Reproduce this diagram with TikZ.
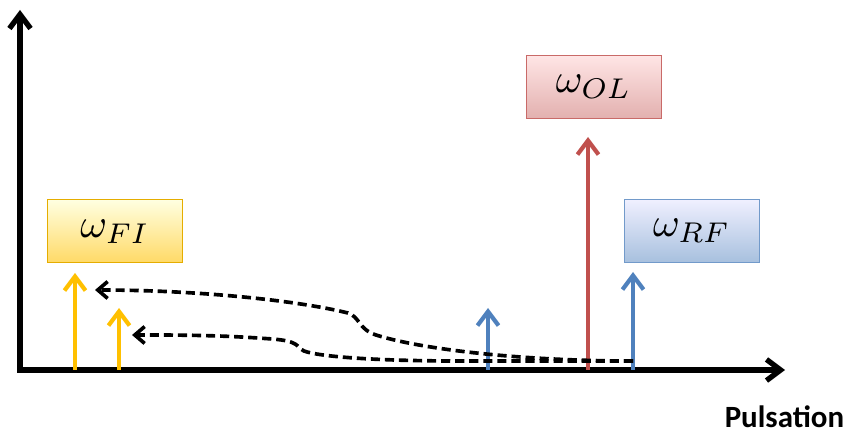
\documentclass[tikz,border=0pt]{standalone}
\usepackage{fontspec}
\newfontfamily\axisfont{Carlito}
\usetikzlibrary{arrows.meta}

\definecolor{goldA}{HTML}{FFC000}
\definecolor{redA}{HTML}{C0504D}
\definecolor{blueA}{HTML}{4F81BD}

\newcommand{\freqlabel}[1]{\scalebox{2.9}{$\omega_{#1}$}}

\begin{document}
\begin{tikzpicture}[
    freqbox/.style={draw, line width=0.8pt, minimum width=3.375cm, minimum height=1.575cm, inner sep=0pt},
    spike/.style={line width=3pt, -{Straight Barb[length=10pt,width=15pt,line width=3pt]}},
    mixline/.style={black, line width=2.6pt, dash pattern=on 6.5pt off 3.5pt, -{Straight Barb[length=7pt,width=12pt,line width=2.6pt]}}]
    \useasboundingbox (0,0) rectangle (21.45,10.825);

    % axes
    \coordinate (O) at (0.5,1.575);
    \coordinate (Ytop) at (0.5,10.575);
    \coordinate (Xend) at (19.625,1.575);
    \draw[line width=3.8pt, -{Straight Barb[length=10pt,width=15pt,line width=3.8pt]}] (0.5,1.5) -- (Ytop);
    \draw[line width=3.8pt, -{Straight Barb[length=10pt,width=15pt,line width=3.8pt]}] (O) -- (Xend);
    \node[font=\axisfont\bfseries\fontsize{22}{24}\selectfont, anchor=base] (puls) at (19.61,0.15) {Pulsation};

    % frequency boxes
    \node[freqbox, draw=goldA!90!black, top color=yellow!12, bottom color=goldA!60] (fi) at (2.875,5.04) {\freqlabel{FI}};
    \node[freqbox, draw=redA!85, top color=red!10, bottom color=redA!45] (ol) at (14.84,8.66) {\freqlabel{OL}};
    \node[freqbox, draw=blueA!80, top color=blue!6, bottom color=blueA!50] (rf) at (17.29,5.05) {\freqlabel{RF}};

    % spikes
    \coordinate (fiA) at (1.875,1.575);
    \coordinate (fiB) at (2.975,1.575);
    \coordinate (imB) at (12.2,1.575);
    \coordinate (olB) at (14.7,1.575);
    \coordinate (rfB) at (15.825,1.575);
    \draw[spike, goldA] (fiA) -- ++(0,2.425) coordinate (fiAtop);
    \draw[spike, goldA] (fiB) -- ++(0,1.55) coordinate (fiBtop);
    \draw[spike, blueA] (imB) -- ++(0,1.55) coordinate (imBtop);
    \draw[spike, redA] (olB) -- ++(0,5.825) coordinate (olBtop);
    \draw[spike, blueA] (rfB) -- ++(0,2.45) coordinate (rfBtop);

    % mixing paths
    \coordinate (mixStart) at (15.825,1.8);
    \coordinate (upTip) at (2.375,3.575);
    \coordinate (loTip) at (3.3,2.45);
    \draw[mixline] (mixStart) .. controls (13,1.8) and (10.5,2.1) .. (9.4,2.45)
        .. controls (8.95,2.6) and (9.0,2.9) .. (8.7,3.0)
        .. controls (7.5,3.3) and (5,3.575) .. (upTip);
    \draw[mixline] (mixStart) -- (11.5,1.8) .. controls (9.5,1.8) and (8.0,1.9) .. (7.6,2.05)
        .. controls (7.4,2.15) and (7.5,2.3) .. (6.8,2.35)
        .. controls (5.5,2.45) and (4.5,2.45) .. (loTip);
\end{tikzpicture}
\end{document}
